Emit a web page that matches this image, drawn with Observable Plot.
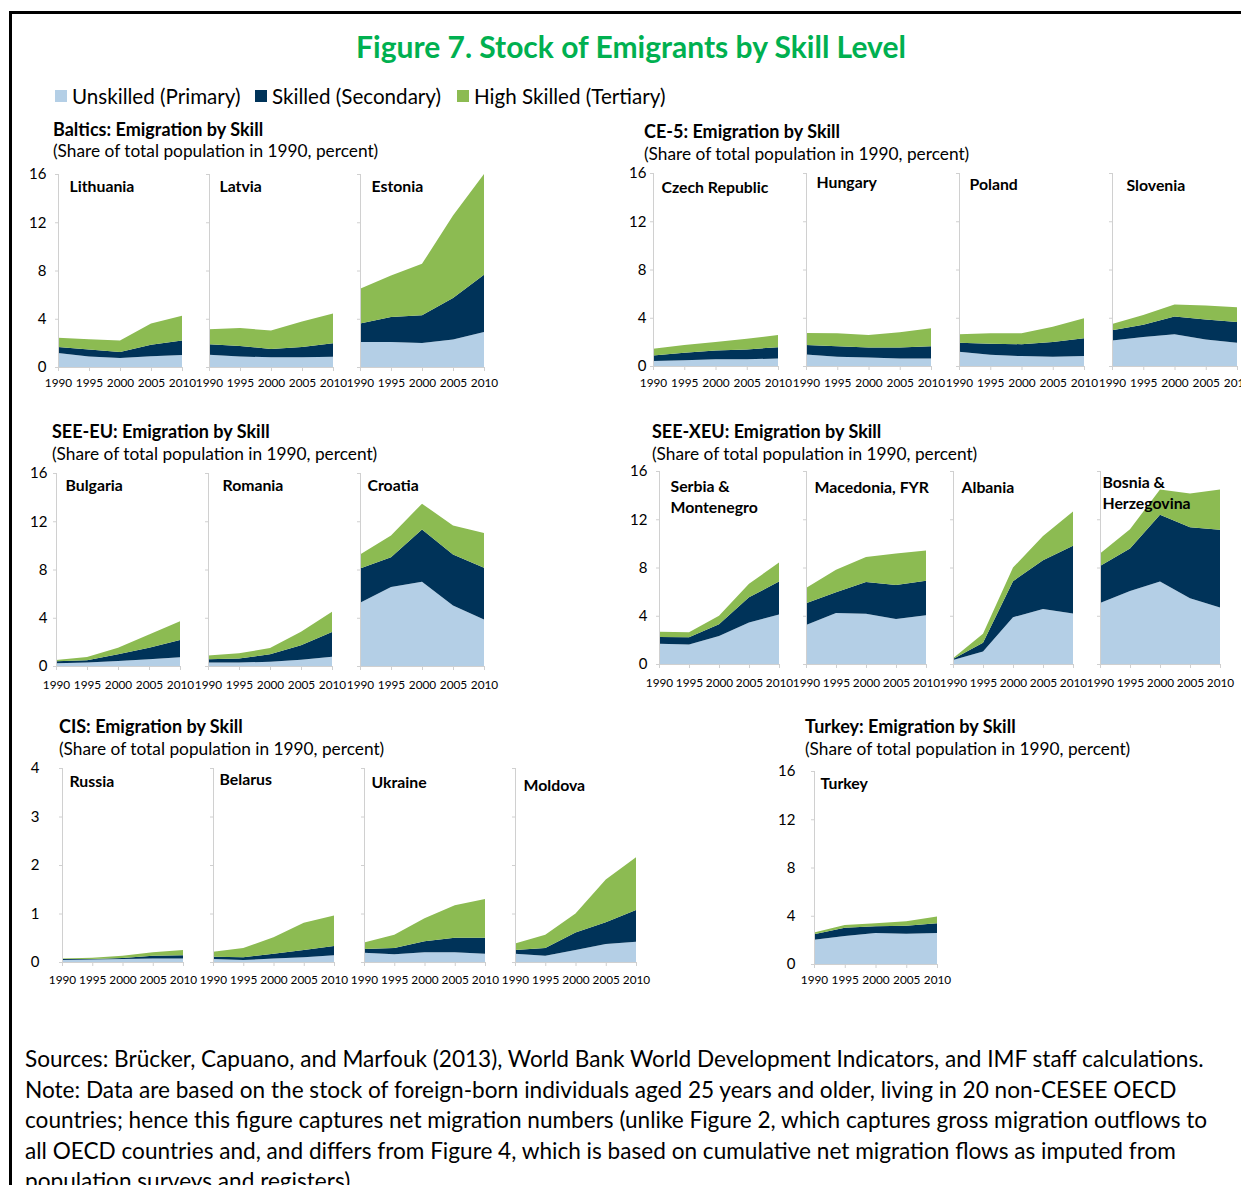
<!DOCTYPE html>
<html><head><meta charset="utf-8">
<script src="https://cdn.jsdelivr.net/npm/d3@7"></script>
<script src="https://cdn.jsdelivr.net/npm/@observablehq/plot@0.6"></script>
<style>
body{margin:0;background:#fff;}
#page{position:relative;width:1241px;height:1185px;overflow:hidden;font-family:Lato, sans-serif;color:#000;background:#fff;}
.abs{position:absolute;white-space:nowrap;line-height:1.2;}
.gt{font-weight:bold;font-size:18px;}
.gs{font-size:17.3px;}
.sq{position:absolute;width:12px;height:12px;}
svg{position:absolute;overflow:visible;}
</style></head><body><div id="page"></div>
<script>
// ---------- data ----------
const years = [1990, 1995, 2000, 2005, 2010];
const skills = ["Unskilled (Primary)", "Skilled (Secondary)", "High Skilled (Tertiary)"];
const colors = ["#b4cfe6", "#003359", "#8cbb52"];

const balticsCountries = ["Lithuania", "Latvia", "Estonia"];
const balticsUnskilled = [[1.16,0.88,0.74,0.90,1.00],[1.02,0.88,0.80,0.80,0.86],[2.07,2.07,1.99,2.29,2.90]];
const balticsSkilled   = [[0.50,0.58,0.50,0.95,1.20],[0.86,0.86,0.69,0.86,1.10],[1.54,2.07,2.29,3.42,4.74]];
const balticsHigh      = [[0.77,0.84,0.96,1.75,2.05],[1.24,1.49,1.54,2.12,2.48],[2.87,3.45,4.27,6.84,8.36]];

const ce5Countries = ["Czech Republic", "Hungary", "Poland", "Slovenia"];
const ce5Unskilled = [[0.41,0.47,0.55,0.55,0.63],[0.96,0.77,0.71,0.63,0.63],[1.18,0.93,0.82,0.77,0.82],[2.11,2.41,2.63,2.19,1.92]];
const ce5Skilled   = [[0.47,0.63,0.74,0.82,0.93],[0.79,0.87,0.82,0.90,1.01],[0.74,0.91,0.99,1.23,1.48],[0.85,1.01,1.48,1.67,1.72]];
const ce5High      = [[0.54,0.65,0.71,0.88,1.02],[0.99,1.07,1.05,1.26,1.48],[0.71,0.87,0.90,1.26,1.65],[0.52,0.80,0.99,1.15,1.24]];

const seeEuCountries = ["Bulgaria", "Romania", "Croatia"];
const seeEuUnskilled = [[0.22,0.28,0.41,0.55,0.72],[0.28,0.28,0.36,0.52,0.77],[5.24,6.54,6.98,5.02,3.86]];
const seeEuSkilled   = [[0.17,0.19,0.56,0.97,1.43],[0.27,0.35,0.61,1.19,2.04],[2.84,2.48,4.33,4.22,4.28]];
const seeEuHigh      = [[0.11,0.27,0.55,1.10,1.57],[0.33,0.42,0.52,1.13,1.69],[1.16,1.79,2.15,2.40,2.89]];

const seeXeuCountries = ["Serbia & Montenegro", "Macedonia, FYR", "Albania", "Bosnia & Herzegovina"];
const seeXeuLabels = ["Serbia &\nMontenegro", "Macedonia, FYR", "Albania", "Bosnia &\nHerzegovina"];
const seeXeuUnskilled = [[1.68,1.62,2.32,3.44,4.11],[3.24,4.22,4.16,3.74,4.05],[0.34,1.03,3.88,4.55,4.19],[5.06,6.06,6.84,5.45,4.69]];
const seeXeuSkilled   = [[0.55,0.59,0.98,2.09,2.73],[1.79,1.73,2.63,2.80,2.85],[0.08,0.73,2.99,4.05,5.61],[3.07,3.52,5.53,5.89,6.43]];
const seeXeuHigh      = [[0.45,0.42,0.69,1.12,1.57],[1.28,1.87,2.09,2.62,2.51],[0.05,0.75,1.12,2.01,2.85],[1.03,1.59,2.10,2.79,3.35]];

const cisCountries = ["Russia", "Belarus", "Ukraine", "Moldova"];
const cisUnskilled = [[0.04,0.05,0.06,0.07,0.07],[0.06,0.04,0.07,0.10,0.14],[0.19,0.16,0.20,0.20,0.17],[0.17,0.13,0.25,0.37,0.42]];
const cisSkilled   = [[0.02,0.01,0.02,0.06,0.07],[0.05,0.06,0.10,0.15,0.19],[0.08,0.13,0.23,0.30,0.33],[0.08,0.16,0.36,0.45,0.65]];
const cisHigh      = [[0.01,0.03,0.05,0.07,0.11],[0.10,0.19,0.34,0.56,0.63],[0.13,0.27,0.47,0.67,0.80],[0.13,0.27,0.39,0.88,1.09]];

const turkeyCountries = ["Turkey"];
const turkeyUnskilled = [[2.02,2.33,2.56,2.50,2.58]];
const turkeySkilled   = [[0.45,0.67,0.56,0.67,0.79]];
const turkeyHigh      = [[0.14,0.23,0.25,0.37,0.56]];

const ticks16 = [0, 4, 8, 12, 16];
const ticks4 = [0, 1, 2, 3, 4];

const groupTitles = ["Baltics: Emigration by Skill", "CE-5: Emigration by Skill", "SEE-EU: Emigration by Skill",
  "SEE-XEU: Emigration by Skill", "CIS: Emigration by Skill", "Turkey: Emigration by Skill"];
const subtitle = "(Share of total population in 1990, percent)";
const mainTitle = "Figure 7. Stock of Emigrants by Skill Level";
const footerLines = [
  "Sources: Brücker, Capuano, and Marfouk (2013), World Bank World Development Indicators, and IMF staff calculations.",
  "Note: Data are based on the stock of foreign-born individuals aged 25 years and older, living in 20 non-CESEE OECD",
  "countries; hence this figure captures net migration numbers (unlike Figure 2, which captures gross migration outflows to",
  "all OECD countries and, and differs from Figure 4, which is based on cumulative net migration flows as imputed from",
  "population surveys and registers)."
];

// ---------- layout ----------
const page = document.getElementById("page");
function addDiv(text, cls, left, top, style = {}) {
  const d = document.createElement("div");
  d.className = "abs " + (cls || "");
  d.textContent = text;
  d.style.left = left + "px"; d.style.top = top + "px";
  Object.assign(d.style, style);
  page.appendChild(d);
  return d;
}

// frame lines
const frame = document.createElement("div");
Object.assign(frame.style, {position: "absolute", left: "9px", top: "11px", width: "1300px", height: "1300px",
  borderTop: "3px solid #000", borderLeft: "3px solid #000"});
page.appendChild(frame);

// title
addDiv(mainTitle, "", 0, 28, {width: "1262px", textAlign: "center", fontWeight: "bold", fontSize: "30px", color: "#00b050"});

// legend
const legendX = [55, 255, 457];
skills.forEach((s, i) => {
  const sq = document.createElement("div");
  sq.className = "sq";
  Object.assign(sq.style, {left: legendX[i] + "px", top: "90px", background: colors[i]});
  page.appendChild(sq);
  addDiv(s, "", legendX[i] + 17, 84, {fontSize: "20.6px"});
});

function rowsFor(countries, U, S, H) {
  const rows = [];
  [U, S, H].forEach((arr, k) =>
    countries.forEach((c, i) =>
      years.forEach((yr, j) => rows.push({country: c, year: yr, skill: skills[k], value: arr[i][j]}))));
  return rows;
}

function drawGroup(cfg) {
  const {countries, labels, U, S, H, yTicks, sx, y16, y0, start, end, pad, tickPad, xPad, labelDx, labelDy} = cfg;
  const mt = 12, mb = 30, mr = 34;
  const height = mt + (y0 - y16) + mb;
  const width = end - sx + mr;
  const rows = rowsFor(countries, U, S, H);
  const textMarks = countries.map((c, i) => Plot.text([c], {
    fx: d => d, text: () => labels[i], frameAnchor: "top-left", lineAnchor: "top",
    dx: labelDx[i], dy: labelDy[i], fontSize: 15.8, fontWeight: "bold", lineHeight: 1.35, fill: "#000"
  }));
  const svg = Plot.plot({
    width, height, marginLeft: start - sx, marginRight: mr, marginTop: mt, marginBottom: mb,
    style: {fontFamily: "Lato, sans-serif", fontSize: "11.8px", color: "#000", background: "transparent"},
    fx: {domain: countries, axis: null, paddingInner: pad, paddingOuter: 0, label: null},
    x: {domain: [years[0], years[years.length - 1]]},
    y: {domain: [yTicks[0], yTicks[yTicks.length - 1]]},
    color: {domain: skills, range: colors},
    marks: [
      Plot.areaY(rows, {x: "year", y: "value", fill: "skill", fx: "country", order: skills}),
      Plot.ruleX([years[0]], {stroke: "#d0d0d0"}),
      Plot.ruleY([yTicks[0]], {stroke: "#d0d0d0"}),
      Plot.axisX({ticks: years, tickFormat: d => String(d), tickSize: 4, tickPadding: xPad, stroke: "#d0d0d0", fontSize: 11.8, label: null}),
      Plot.axisY({ticks: yTicks, tickSize: 0, tickPadding: tickPad, tickFormat: d => String(d), fontSize: 15, label: null}),
      Plot.axisY({ticks: yTicks, facetAnchor: null, tickSize: 3, tickFormat: () => "", stroke: "#d0d0d0", label: null}),
      ...textMarks
    ]
  });
  svg.style.left = sx + "px";
  svg.style.top = (y16 - mt) + "px";
  page.appendChild(svg);
}

const groups = [
  {countries: balticsCountries, labels: balticsCountries, U: balticsUnskilled, S: balticsSkilled, H: balticsHigh,
   yTicks: ticks16, sx: 0, y16: 174, y0: 367, start: 57, end: 484, pad: 0.1815, tickPad: 12, xPad: 7,
   labelDx: [11, 10, 11], labelDy: [2, 2, 2], title: [53, 119, 141]},
  {countries: ce5Countries, labels: ce5Countries, U: ce5Unskilled, S: ce5Skilled, H: ce5High,
   yTicks: ticks16, sx: 600, y16: 173, y0: 366, start: 652, end: 1239, pad: 0.18, tickPad: 7, xPad: 8,
   labelDx: [8, 10, 10, 14], labelDy: [4, -1, 1, 2], title: [644, 121, 144]},
  {countries: seeEuCountries, labels: seeEuCountries, U: seeEuUnskilled, S: seeEuSkilled, H: seeEuHigh,
   yTicks: ticks16, sx: 0, y16: 473, y0: 666, start: 55, end: 486, pad: 0.183, tickPad: 9, xPad: 10,
   labelDx: [9, 14, 7], labelDy: [2, 2, 2], title: [52, 421, 444]},
  {countries: seeXeuCountries, labels: seeXeuLabels, U: seeXeuUnskilled, S: seeXeuSkilled, H: seeXeuHigh,
   yTicks: ticks16, sx: 600, y16: 471, y0: 664, start: 657, end: 1222, pad: 0.182, tickPad: 12, xPad: 10,
   labelDx: [11, 8, 8, 2], labelDy: [5, 6, 6, 1], title: [652, 421, 444]},
  {countries: cisCountries, labels: cisCountries, U: cisUnskilled, S: cisSkilled, H: cisHigh,
   yTicks: ticks4, sx: 0, y16: 768, y0: 962, start: 61, end: 637, pad: 0.2, tickPad: 23, xPad: 9,
   labelDx: [7, 6, 7, 8], labelDy: [3, 1, 4, 7], title: [59, 716, 739]},
  {countries: turkeyCountries, labels: turkeyCountries, U: turkeyUnskilled, S: turkeySkilled, H: turkeyHigh,
   yTicks: ticks16, sx: 750, y16: 771, y0: 964, start: 814, end: 937, pad: 0, tickPad: 19, xPad: 7,
   labelDx: [6], labelDy: [2], title: [805, 716, 739]}
];

groups.forEach((g, i) => {
  addDiv(groupTitles[i], "gt", g.title[0], g.title[1]);
  addDiv(subtitle, "gs", g.title[0], g.title[2]);
  drawGroup(g);
});

footerLines.forEach((t, i) => addDiv(t, "", 25, 1044 + i * 30.5, {fontSize: "22.6px", lineHeight: "30px"}));
</script>
</body></html>
